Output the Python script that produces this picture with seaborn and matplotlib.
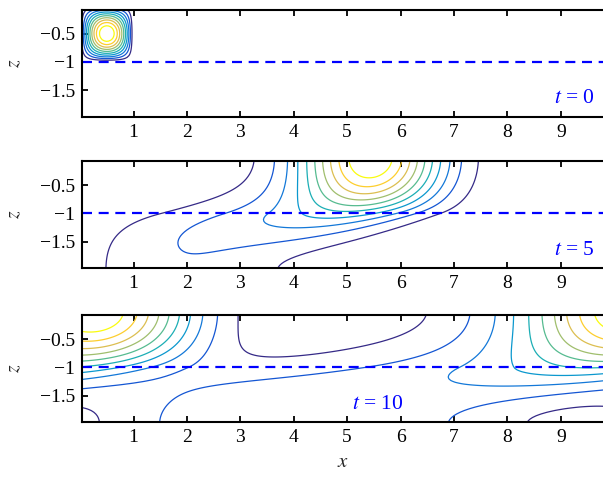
import numpy as np
import matplotlib
matplotlib.use("Agg")
import matplotlib.pyplot as plt
import seaborn as sns

# snapshots shown in the three panels
times = [0, 5, 10]
time_labels = ["$t$ = 0", "$t$ = 5", "$t$ = 10"]
label_x = [9.63, 9.63, 6.05]          # right end of the t label (x units)
xticks = [1, 2, 3, 4, 5, 6, 7, 8, 9]
zticks = [-1.5, -1, -0.5]
zticklabels = ["\u22121.5", "\u22121", "\u22120.5"]
interface_z = -1.0

# channel and flow set-up
channel_length = 10.0
channel_depth = 2.0
patch_x = [0.0, 1.0]      # initial tracer patch, x extent
patch_z = [-1.0, 0.0]     # initial tracer patch, z extent
u_layers = [1.0, 0.0]     # speed above / below the interface
kappa_x = 0.078           # horizontal diffusivity
kappa_z = 0.065           # vertical diffusivity
n_levels = 10

# parula-like palette
parula = ["#352a87", "#0f5cdd", "#1481d6", "#06a4ca", "#2eb7a4",
          "#87bf77", "#d1bb59", "#fec832", "#f9fb0e"]

sns.set_theme(style="ticks")
plt.rcParams["font.family"] = ["Liberation Serif", "DejaVu Serif"]
plt.rcParams["mathtext.fontset"] = "stix"
cmap = sns.blend_palette(parula, as_cmap=True)

# grid
nx, nz = 256, 64
dx = channel_length / nx
dz = channel_depth / nz
x = (np.arange(nx) + 0.5) * dx
z = -channel_depth + (np.arange(nz) + 0.5) * dz
X, Z = np.meshgrid(x, z)

inside = (X >= patch_x[0]) & (X <= patch_x[1]) & (Z >= patch_z[0]) & (Z <= patch_z[1])
c0 = np.where(inside,
              np.sin(np.pi * (X - patch_x[0]) / (patch_x[1] - patch_x[0]))
              * np.sin(np.pi * (Z - patch_z[0]) / (patch_z[1] - patch_z[0])), 0.0)

# two-layer flow: upper layer moves, lower layer at rest
u = np.where(z > interface_z, u_layers[0], u_layers[1])

# vertical diffusion operator with no-flux walls
D = np.diag(-2.0 * np.ones(nz)) + np.diag(np.ones(nz - 1), 1) + np.diag(np.ones(nz - 1), -1)
D[0, 0] = D[-1, -1] = -1.0
D /= dz ** 2

# periodic in x: step each Fourier mode with Crank-Nicolson
k = 2 * np.pi * np.fft.rfftfreq(nx, d=dx)
I = np.eye(nz)
A = (-1j * k[:, None, None] * np.diag(u)[None] + kappa_z * D[None]
     - kappa_x * (k ** 2)[:, None, None] * I[None])
dt = 0.01
M = np.linalg.solve(I[None] - 0.5 * dt * A, I[None] + 0.5 * dt * A)

ck = np.fft.rfft(c0, axis=1).T[:, :, None]
fields = []
t_now = 0.0
for t in times:
    n_steps = int(round((t - t_now) / dt))
    for _ in range(n_steps):
        ck = M @ ck
    t_now = t
    fields.append(np.fft.irfft(ck[:, :, 0].T, n=nx, axis=1))

fig = plt.figure(figsize=(6.03, 4.78), dpi=100)
bottoms = [0.756, 0.439, 0.117]
for i, f in enumerate(fields):
    ax = fig.add_axes([0.136, bottoms[i], 0.864, 0.224])
    lev = np.linspace(f.min(), f.max(), n_levels + 2)[1:-1]
    ax.contour(x, z, f, levels=lev, cmap=cmap, linewidths=0.9)
    ax.axhline(interface_z, color="blue", ls=(0, (4.5, 3)), lw=1.6)
    ax.set_xlim(0.035, 9.79)
    ax.set_ylim(-1.97, -0.075)
    ax.set_xticks(xticks)
    ax.set_yticks(zticks)
    ax.set_yticklabels(zticklabels)
    ax.tick_params(direction="in", top=True, right=False, length=4.5, width=1.3,
                   labelsize=14, pad=5, color="black", labelcolor="black")
    for side in ["left", "bottom", "top"]:
        ax.spines[side].set_linewidth(1.5)
        ax.spines[side].set_color("black")
    ax.spines["right"].set_visible(False)
    ax.set_ylabel("$z$", fontsize=14, labelpad=12)
    ax.text(label_x[i], 0.125, time_labels[i], transform=ax.get_xaxis_transform(),
            ha="right", va="baseline", color="blue", fontsize=15.5)
    if i == 2:
        ax.set_xlabel("$x$", fontsize=15, labelpad=5)

fig.savefig("out.png", dpi=100)
